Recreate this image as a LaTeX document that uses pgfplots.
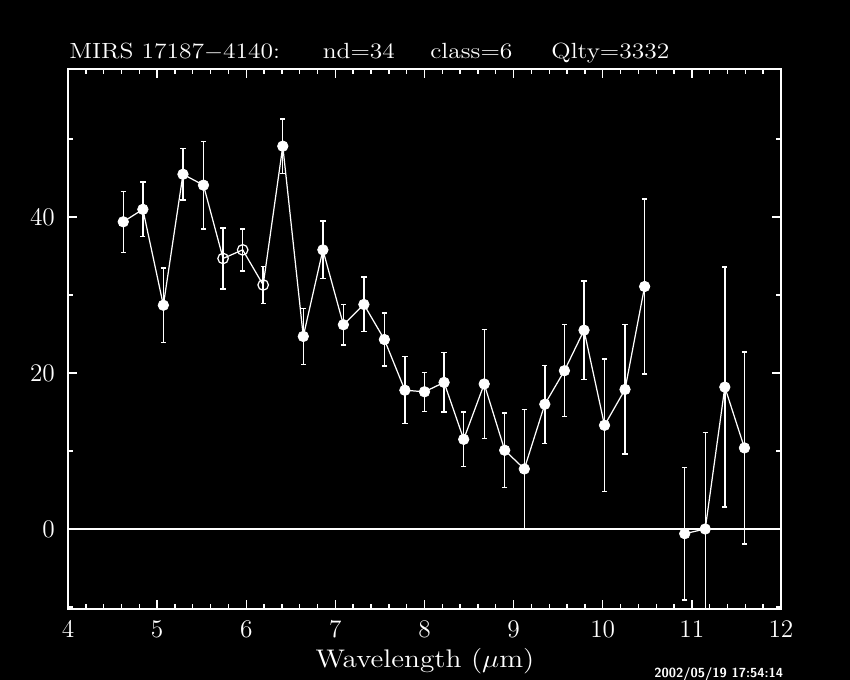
\documentclass[border=0pt]{standalone}
\usepackage{pgfplots}
\pgfplotsset{compat=1.18}
\usepackage{pgfplotstable}
\pgfplotstableread{
x y e
4.62 39.4 3.9
4.84 41.0 3.5
5.07 28.7 4.8
5.29 45.5 3.3
5.52 44.1 5.6
5.74 34.7 3.9
5.96 35.8 2.7
6.19 31.3 2.4
6.41 49.1 3.5
6.64 24.7 3.6
6.86 35.8 3.7
7.09 26.2 2.6
7.32 28.8 3.5
7.55 24.3 3.4
7.78 17.8 4.3
8.00 17.6 2.5
8.22 18.8 3.8
8.44 11.5 3.5
8.67 18.6 7.0
8.90 10.1 4.8
9.12 7.7 7.6
9.35 16.0 5.0
9.57 20.3 5.9
9.79 25.5 6.3
10.02 13.3 8.5
10.25 17.9 8.3
10.47 31.1 11.2
}\dataA
\pgfplotstableread{
x y e
10.92 -0.6 8.5
11.15 0.0 12.4
11.37 18.2 15.4
11.59 10.4 12.3
}\dataB
\pgfplotstableread{
x y
4.62 39.4
4.84 41.0
5.07 28.7
5.29 45.5
5.52 44.1
6.41 49.1
6.64 24.7
6.86 35.8
7.09 26.2
7.32 28.8
7.55 24.3
7.78 17.8
8.00 17.6
8.22 18.8
8.44 11.5
8.67 18.6
8.90 10.1
9.12 7.7
9.35 16.0
9.57 20.3
9.79 25.5
10.02 13.3
10.25 17.9
10.47 31.1
10.92 -0.6
11.15 0.0
11.37 18.2
11.59 10.4
}\dataFill
\pgfplotstableread{
x y
5.74 34.7
5.96 35.8
6.19 31.3
}\dataOpen
\begin{document}
\begin{tikzpicture}
\fill[black] (0,0) rectangle (17cm,13.6cm);
\begin{axis}[
  at={(1.36cm,1.42cm)}, anchor=south west,
  scale only axis, width=14.26cm, height=10.8cm,
  xmin=4, xmax=12, ymin=-10.26, ymax=59,
  xtick={4,...,12}, minor x tick num=4,
  ytick={0,20,40}, minor ytick={-10,10,30,50},
  tick align=inside,
  major tick length=0.18cm, minor tick length=0.1cm,
  axis line style={white, line width=0.8pt},
  tick style={white, line width=0.8pt},
  tick label style={white, font=\fontsize{13.5}{15}\selectfont},
  xticklabel style={yshift=-0.12cm},
  yticklabel style={xshift=-0.14cm},
]
\addplot[white, line width=0.8pt, mark=none, forget plot] coordinates {(4,0) (12,0)};
\addplot[white, line width=0.7pt, mark=none,
  error bars/.cd, y dir=both, y explicit,
  error bar style={white, line width=0.8pt},
  error mark options={white, rotate=90, mark size=1.5pt, line width=0.8pt}]
  table[x=x, y=y, y error=e] {\dataA};
\addplot[white, line width=0.7pt, mark=none,
  error bars/.cd, y dir=both, y explicit,
  error bar style={white, line width=0.8pt},
  error mark options={white, rotate=90, mark size=1.5pt, line width=0.8pt}]
  table[x=x, y=y, y error=e] {\dataB};
\addplot[only marks, mark=*, mark size=3pt, white] table[x=x, y=y] {\dataFill};
\addplot[only marks, mark=o, mark size=3pt, mark options={draw=white, line width=0.7pt}] table[x=x, y=y] {\dataOpen};
\end{axis}
\begin{scope}[white]
\node[anchor=base west, inner sep=0pt] at (1.38cm,12.43cm) {\fontsize{12.5}{14}\selectfont\scalebox{1.16}[1]{MIRS 17187$-$4140:}};
\node[anchor=base west, inner sep=0pt] at (6.45cm,12.43cm) {\fontsize{12.5}{14}\selectfont\scalebox{1.16}[1]{nd=34}};
\node[anchor=base west, inner sep=0pt] at (8.6cm,12.43cm) {\fontsize{12.5}{14}\selectfont\scalebox{1.16}[1]{class=6}};
\node[anchor=base west, inner sep=0pt] at (11.02cm,12.43cm) {\fontsize{12.5}{14}\selectfont\scalebox{1.16}[1]{Qlty=3332}};
\node[anchor=base, inner sep=0pt] at (8.5cm,0.25cm) {\fontsize{14.5}{16}\selectfont\scalebox{1.15}[1]{Wavelength ($\mu$m)}};
\node[anchor=base west, inner sep=0pt] at (13.08cm,0.04cm) {\fontsize{7.5}{9}\selectfont\sffamily\bfseries 2002/05/19 17:54:14};
\end{scope}
\pgfresetboundingbox
\path[use as bounding box] (0,0) rectangle (17cm,13.6cm);
\end{tikzpicture}
\end{document}
